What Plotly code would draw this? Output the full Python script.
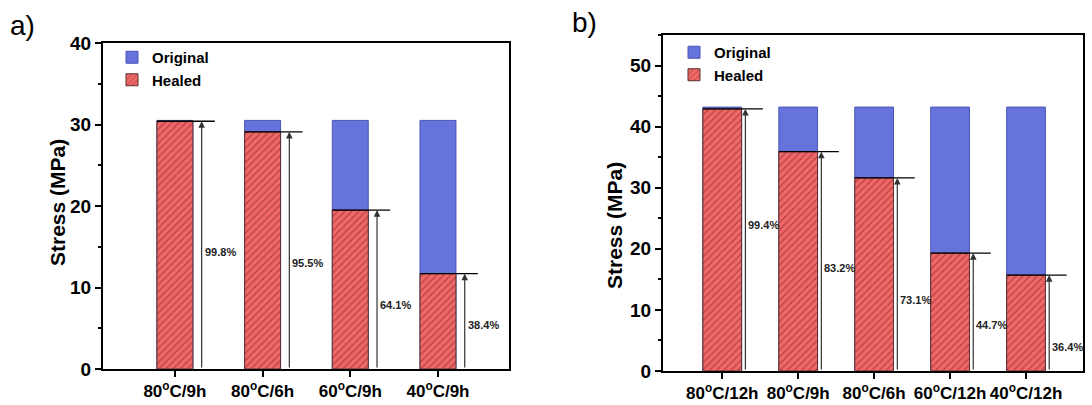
import plotly.graph_objects as go

# ---- data ----
cats_a = ["80<sup>o</sup>C/9h", "80<sup>o</sup>C/6h", "60<sup>o</sup>C/9h", "40<sup>o</sup>C/9h"]
orig_a = [30.5, 30.5, 30.5, 30.5]
healed_a = [30.4, 29.1, 19.5, 11.7]
pct_a = ["99.8%", "95.5%", "64.1%", "38.4%"]
label_y_a = [14.3, 13.0, 7.8, 5.4]

cats_b = ["80<sup>o</sup>C/12h", "80<sup>o</sup>C/9h", "80<sup>o</sup>C/6h", "60<sup>o</sup>C/12h", "40<sup>o</sup>C/12h"]
orig_b = [43.2, 43.2, 43.2, 43.2, 43.2]
healed_b = [42.9, 35.9, 31.6, 19.3, 15.7]
pct_b = ["99.4%", "83.2%", "73.1%", "44.7%", "36.4%"]
label_y_b = [23.9, 16.9, 11.6, 7.5, 4.0]

BLUE = "#6673DD"
RED = "#F06767"
FONT = "Arial, Liberation Sans, sans-serif"
W, H = 1092, 405

fig = go.Figure()

def add_panel(cats, orig, healed, pct, label_y, xa, ya, legend, width, arrow_off, ext):
    xs = list(range(len(cats)))
    fig.add_trace(go.Bar(x=xs, y=orig, name="Original", width=width,
                         marker=dict(color=BLUE, line=dict(color="#4a55b5", width=1)),
                         xaxis=xa, yaxis=ya, legend=legend))
    fig.add_trace(go.Bar(x=xs, y=healed, name="Healed", width=width,
                         marker=dict(color=RED, line=dict(color="#5a3030", width=1),
                                     pattern=dict(shape="/", fgcolor="#6e1c1c", size=5, solidity=0.22)),
                         xaxis=xa, yaxis=ya, legend=legend))
    xr = "x" if xa == "x" else "x2"
    yr = "y" if ya == "y" else "y2"
    for i, (h, p, ly) in enumerate(zip(healed, pct, label_y)):
        fig.add_shape(type="line", xref=xr, yref=yr, x0=i - width / 2, x1=i + width / 2 + ext,
                      y0=h, y1=h, line=dict(color="black", width=1.3))
        ax_x = i + width / 2 + arrow_off
        fig.add_annotation(x=ax_x, y=h, ax=ax_x, ay=0, xref=xr, yref=yr, axref=xr, ayref=yr,
                           text="", showarrow=True, arrowhead=2, arrowsize=1.1, arrowwidth=1.2,
                           arrowcolor="#333333", standoff=0, startstandoff=0)
        fig.add_annotation(x=ax_x, y=ly, xref=xr, yref=yr, text="<b>%s</b>" % p, showarrow=False,
                           xanchor="left", yanchor="middle", xshift=1,
                           font=dict(family=FONT, size=11, color="#222222"))

add_panel(cats_a, orig_a, healed_a, pct_a, label_y_a, "x", "y", "legend", 0.41, 0.10, 0.25)
add_panel(cats_b, orig_b, healed_b, pct_b, label_y_b, "x2", "y2", "legend2", 0.51, 0.05, 0.28)

def px_x(p):
    return p / W

def px_y(p):
    return 1 - p / H

YTICKFONT = dict(family=FONT, size=19, color="black", weight="bold")
XTICKFONT = dict(family=FONT, size=17, color="black", weight="bold")
axis_common = dict(showline=True, linewidth=2, linecolor="black", mirror=True, showgrid=False,
                   zeroline=False, ticks="outside", tickwidth=2, tickcolor="black", automargin=False)
minor = dict(dtick=5, ticklen=3, ticks="outside", tickwidth=2, tickcolor="black")

fig.update_layout(
    width=W, height=H, margin=dict(l=0, r=0, t=0, b=0, autoexpand=False),
    paper_bgcolor="white", plot_bgcolor="white", barmode="overlay",
    font=dict(family=FONT),
    xaxis=dict(domain=[px_x(103), px_x(509)], range=[-0.82, 3.81], tickvals=list(range(len(cats_a))),
               ticktext=cats_a, ticklen=6, tickangle=0, anchor="y", tickfont=XTICKFONT, **axis_common),
    yaxis=dict(domain=[px_y(369), px_y(43)], range=[0, 40], dtick=10, ticklen=6, anchor="x",
               minor=minor, tickfont=YTICKFONT, **axis_common),
    xaxis2=dict(domain=[px_x(663), px_x(1083)], range=[-0.78, 4.75], tickvals=list(range(len(cats_b))),
                ticktext=cats_b, ticklen=6, tickangle=0, anchor="y2", tickfont=XTICKFONT, **axis_common),
    yaxis2=dict(domain=[px_y(371), px_y(35)], range=[0, 55], dtick=10, ticklen=6, anchor="x2",
                minor=minor, tickfont=YTICKFONT, **axis_common),
    legend=dict(x=px_x(112), y=px_y(41), xanchor="left", yanchor="top", bgcolor="rgba(0,0,0,0)",
                font=dict(family=FONT, size=15, color="black", weight="bold"), traceorder="normal"),
    legend2=dict(x=px_x(674), y=px_y(36), xanchor="left", yanchor="top", bgcolor="rgba(0,0,0,0)",
                 font=dict(family=FONT, size=15, color="black", weight="bold"), traceorder="normal"),
    showlegend=True,
)

fig.add_annotation(x=px_x(57), y=px_y(203), xref="paper", yref="paper", text="<b>Stress (MPa)</b>",
                   textangle=-90, showarrow=False, xanchor="center", yanchor="middle",
                   font=dict(family=FONT, size=21, color="black"))
fig.add_annotation(x=px_x(614), y=px_y(226), xref="paper", yref="paper", text="<b>Stress (MPa)</b>",
                   textangle=-90, showarrow=False, xanchor="center", yanchor="middle",
                   font=dict(family=FONT, size=21, color="black"))
fig.add_annotation(x=px_x(8), y=px_y(25), xref="paper", yref="paper", text="a)", xanchor="left",
                   yanchor="middle", showarrow=False, font=dict(family=FONT, size=28, color="black"))
fig.add_annotation(x=px_x(570), y=px_y(22), xref="paper", yref="paper", text="b)", xanchor="left",
                   yanchor="middle", showarrow=False, font=dict(family=FONT, size=28, color="black"))

fig.write_html("out.html", config={"displayModeBar": False},
               post_script="document.body.style.margin='0';document.body.style.overflow='hidden';")
